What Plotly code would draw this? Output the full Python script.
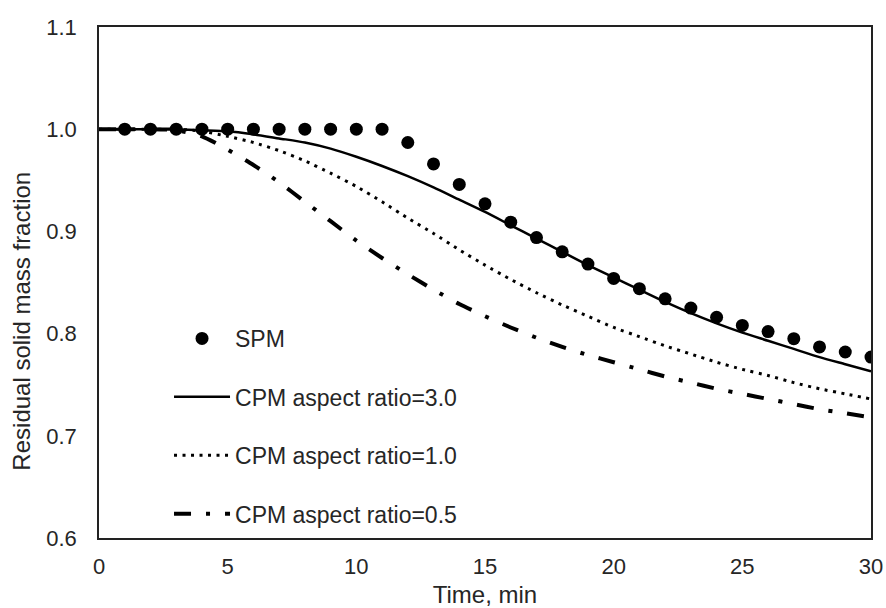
import plotly.graph_objects as go

# Time axis (min)
time_model = list(range(0, 31))
time_spm = list(range(1, 31))

# Single-particle model results
spm = [1.000, 1.000, 1.000, 1.000, 1.000, 1.000, 1.000, 1.000, 1.000, 1.000,
       1.000, 0.987, 0.966, 0.946, 0.927, 0.909, 0.894, 0.880, 0.868, 0.854,
       0.844, 0.834, 0.825, 0.816, 0.808, 0.802, 0.795, 0.787, 0.782, 0.777]

# Composite-particle model, three aspect ratios
cpm_ar30 = [1.000, 1.000, 1.000, 1.000, 0.999, 0.998, 0.995, 0.991, 0.987, 0.981,
            0.973, 0.964, 0.954, 0.943, 0.931, 0.919, 0.906, 0.893, 0.880, 0.867,
            0.855, 0.843, 0.831, 0.820, 0.810, 0.801, 0.793, 0.785, 0.777, 0.770,
            0.763]
cpm_ar10 = [1.000, 1.000, 1.000, 1.000, 0.998, 0.993, 0.987, 0.979, 0.969, 0.957,
            0.944, 0.929, 0.913, 0.898, 0.882, 0.867, 0.853, 0.840, 0.828, 0.817,
            0.806, 0.797, 0.788, 0.780, 0.772, 0.765, 0.759, 0.752, 0.746, 0.741,
            0.736]
cpm_ar05 = [1.000, 1.000, 1.000, 0.999, 0.993, 0.980, 0.965, 0.948, 0.929, 0.910,
            0.891, 0.874, 0.858, 0.843, 0.829, 0.817, 0.806, 0.796, 0.787, 0.779,
            0.772, 0.765, 0.758, 0.752, 0.746, 0.741, 0.736, 0.731, 0.726, 0.722,
            0.718]

x_ticks = [0, 5, 10, 15, 20, 25, 30]
y_ticks = [0.6, 0.7, 0.8, 0.9, 1.0, 1.1]

FONT = "Arial, Liberation Sans, sans-serif"
TXT = "#262626"

fig = go.Figure()
fig.add_trace(go.Scatter(
    x=time_spm, y=spm, mode="markers", name="SPM", legendgroup="a",
    marker=dict(symbol="circle", size=13, color="black"),
))
fig.add_trace(go.Scatter(
    x=time_model, y=cpm_ar30, mode="lines", name="CPM aspect ratio=3.0",
    legendgroup="b", line=dict(color="black", width=2.5, shape="spline", smoothing=0.6),
))
fig.add_trace(go.Scatter(
    x=time_model, y=cpm_ar10, mode="lines", name="CPM aspect ratio=1.0",
    legendgroup="c",
    line=dict(color="black", width=3, dash="3px,5.5px", shape="spline", smoothing=0.6),
))
fig.add_trace(go.Scatter(
    x=time_model, y=cpm_ar05, mode="lines", name="CPM aspect ratio=0.5",
    legendgroup="d",
    line=dict(color="black", width=4, dash="17px,15px,4px,15px", shape="spline", smoothing=0.6),
))

axis_common = dict(
    showgrid=False, zeroline=False, showline=True, linecolor="#222",
    linewidth=1.5, mirror=True, ticks="", automargin=False,
    tickfont=dict(family=FONT, size=22, color=TXT),
)

fig.update_layout(
    width=886, height=608,
    margin=dict(l=99, r=15, t=27, b=70),
    paper_bgcolor="white", plot_bgcolor="white",
    font=dict(family=FONT, size=22, color=TXT),
    showlegend=True,
    legend=dict(
        x=0.0907, y=0.4325, xanchor="left", yanchor="top",
        bgcolor="rgba(0,0,0,0)", borderwidth=0,
        font=dict(family=FONT, size=23, color=TXT),
        tracegroupgap=25.5, traceorder="grouped", itemwidth=56,
    ),
    xaxis=dict(range=[0, 30], tickvals=x_ticks, ticklabelstandoff=8,
               title=dict(text="Time, min", font=dict(size=24), standoff=8),
               **axis_common),
    yaxis=dict(range=[0.6, 1.1], tickvals=y_ticks, tickformat=".1f",
               ticklabelstandoff=16, **axis_common),
    annotations=[dict(
        text="Residual solid mass fraction", textangle=-90,
        xref="paper", yref="paper", x=-0.1, y=0.425,
        xanchor="center", yanchor="middle", showarrow=False,
        font=dict(family=FONT, size=24, color=TXT),
    )],
)

fig.write_html("out.html")
